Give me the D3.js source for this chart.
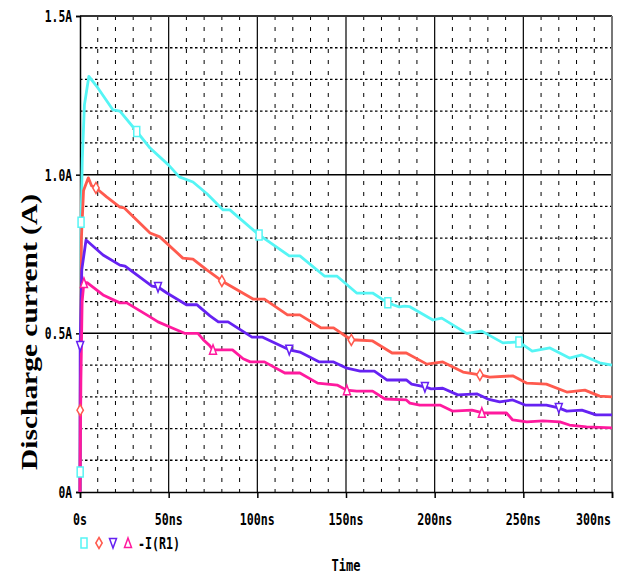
<!DOCTYPE html>
<html>
<head>
<meta charset="utf-8">
<script src="https://cdn.jsdelivr.net/npm/d3@7"></script>
<style>
  body { margin: 0; background: #fff; }
  .tick-label { font-family: "DejaVu Sans Mono", monospace; font-weight: bold; font-size: 16px; fill: #000; }
</style>
</head>
<body>
<div id="container"></div>
<script>
/* CONSTANTS AND GLOBALS */
const width = 620,
  height = 576,
  margin = { top: 16, bottom: 84, left: 80, right: 8 };

/* DATA: [time (ns), current (A)] */
const cyanPts = [[0,0],[0.1,0.063],[0.6,0.85],[1.3,1.05],[2.5,1.22],[5,1.31],[10,1.274],[18.6,1.204],[22.5,1.2],[32,1.136],
  [39.5,1.084],[50,1.03],[56,0.993],[63.7,0.977],[71.6,0.94],[80.7,0.889],[84.5,0.889],[101,0.81],[118,0.744],[124,0.744],
  [138,0.68],[145,0.68],[156,0.627],[165,0.627],[173.6,0.596],[180,0.583],[183,0.586],[186,0.584],[199,0.542],[204,0.548],
  [218,0.5],[226.6,0.507],[238.5,0.47],[247.5,0.473],[255,0.444],[265,0.454],[276,0.422],[283,0.432],[293,0.407],[300,0.4]];

const redPts = [[0,0],[0.1,0.258],[0.8,0.8],[2,0.95],[4.7,0.99],[6.5,0.965],[9,0.958],[15,0.93],[22.5,0.898],[25,0.895],
  [39.5,0.816],[45,0.804],[58,0.737],[63.7,0.734],[71.5,0.7],[80,0.665],[97.6,0.608],[104,0.608],[117,0.558],[124,0.558],
  [136,0.517],[143,0.517],[153,0.479],[156,0.479],[165,0.476],[176,0.438],[184,0.438],[195.6,0.403],[204.6,0.41],[216,0.378],
  [225.5,0.369],[231,0.362],[244,0.366],[252,0.343],[263,0.34],[274.5,0.315],[284.7,0.321],[293,0.302],[300,0.3]];

const bluePts = [[0,0],[0.1,0.46],[1,0.7],[3.4,0.794],[13,0.747],[22.5,0.715],[25.4,0.712],[40.6,0.649],[44,0.646],[49,0.627],
  [60,0.59],[66,0.59],[67,0.585],[73.3,0.555],[78,0.536],[83.5,0.536],[97,0.488],[103,0.488],[118,0.448],[124,0.441],
  [135,0.41],[143,0.41],[150.5,0.39],[158,0.381],[166,0.381],[173,0.353],[184,0.353],[187,0.34],[194.5,0.331],[198,0.325],
  [204.6,0.327],[213,0.306],[224,0.309],[230,0.293],[236.7,0.284],[244,0.29],[251,0.274],[263,0.274],[270,0.265],[274.5,0.255],
  [283,0.258],[291,0.243],[300,0.243]];

const magentaPts = [[0,0],[0.5,0.35],[1.2,0.6],[2.2,0.659],[4,0.66],[13,0.621],[22.5,0.596],[26.4,0.596],[39.5,0.552],[44,0.536],
  [50.7,0.52],[59,0.5],[66.5,0.5],[69.5,0.48],[73,0.462],[75,0.448],[86,0.448],[92,0.42],[96,0.41],[104,0.41],
  [115.5,0.375],[124,0.375],[134,0.343],[145,0.337],[150.5,0.321],[156,0.318],[165,0.318],[172,0.293],[184,0.29],[186,0.28],
  [191.6,0.274],[203,0.274],[210,0.255],[221,0.258],[226.6,0.25],[229,0.249],[240.5,0.249],[244,0.227],[252,0.221],[261,0.224],
  [270.6,0.221],[276,0.211],[285.6,0.205],[300,0.202]];

// marker times along each trace
const cyanMarks = [0.1, 0.6, 32, 101, 173.6, 247.5];
const redMarks = [0.1, 9, 80, 153, 225.5];
const blueMarks = [0.1, 44, 118, 194.5, 270];
const magentaMarks = [2.2, 75, 150.5, 226.6];

const xTicks = [0, 50, 100, 150, 200, 250, 300];
const xTickLabels = ["0s", "50ns", "100ns", "150ns", "200ns", "250ns", "300ns"];
const yTicks = [0, 0.5, 1.0, 1.5];
const yTickLabels = ["0A", "0.5A", "1.0A", "1.5A"];

const series = [
  { pts: cyanPts, marks: cyanMarks, color: "#55f5f5", shape: "square" },
  { pts: redPts, marks: redMarks, color: "#ff5a4e", shape: "diamond" },
  { pts: bluePts, marks: blueMarks, color: "#6622f2", shape: "down" },
  { pts: magentaPts, marks: magentaMarks, color: "#ff1a9e", shape: "up" }
];

/* SCALES */
const xScale = d3.scaleLinear().domain([0, 300]).range([margin.left, width - margin.right]);
const yScale = d3.scaleLinear().domain([0, 1.5]).range([height - margin.bottom, margin.top]);

const svg = d3.select("#container").append("svg")
  .attr("width", width)
  .attr("height", height);

/* GRID */
const minorX = d3.range(10, 300, 10).filter(d => d % 50 !== 0);
const minorY = d3.range(1, 15).map(d => d / 10).filter(d => Math.round(d * 10) % 5 !== 0);

svg.append("g").selectAll("line").data(minorX).join("line")
  .attr("x1", d => xScale(d)).attr("x2", d => xScale(d))
  .attr("y1", yScale(1.5)).attr("y2", yScale(0))
  .attr("stroke", "#000").attr("stroke-width", 1)
  .attr("stroke-dasharray", "4,7");

svg.append("g").selectAll("line").data(minorY).join("line")
  .attr("x1", xScale(0)).attr("x2", xScale(300))
  .attr("y1", d => yScale(d)).attr("y2", d => yScale(d))
  .attr("stroke", "#000").attr("stroke-width", 1.3)
  .attr("stroke-dasharray", "2.5,2.5");

svg.append("g").selectAll("line").data([50, 100, 150, 200, 250]).join("line")
  .attr("x1", d => xScale(d)).attr("x2", d => xScale(d))
  .attr("y1", yScale(1.5)).attr("y2", yScale(0))
  .attr("stroke", "#000").attr("stroke-width", 1.2);

svg.append("g").selectAll("line").data([0.5, 1.0]).join("line")
  .attr("x1", xScale(0)).attr("x2", xScale(300))
  .attr("y1", d => yScale(d)).attr("y2", d => yScale(d))
  .attr("stroke", "#000").attr("stroke-width", 1.5);

// frame
svg.append("line").attr("x1", xScale(0)).attr("x2", xScale(300))
  .attr("y1", yScale(1.5)).attr("y2", yScale(1.5))
  .attr("stroke", "#333").attr("stroke-width", 2);
svg.append("line").attr("x1", xScale(300)).attr("x2", xScale(300))
  .attr("y1", yScale(1.5)).attr("y2", yScale(0))
  .attr("stroke", "#777").attr("stroke-width", 2);

/* AXES */
const xAxis = d3.axisBottom(xScale).tickValues(xTicks).tickSize(6).tickFormat("");
svg.append("g")
  .attr("transform", `translate(0,${yScale(0)})`)
  .call(xAxis)
  .call(g => g.select(".domain").attr("stroke-width", 1.5))
  .call(g => g.selectAll(".tick line").attr("stroke-width", 1.5));

const yAxis = d3.axisLeft(yScale).tickValues(yTicks).tickSize(4).tickFormat("");
svg.append("g")
  .attr("transform", `translate(${xScale(0)},0)`)
  .call(yAxis)
  .call(g => g.select(".domain").attr("stroke-width", 1.5))
  .call(g => g.selectAll(".tick line").attr("stroke-width", 1.5));

// tick labels (condensed bitmap-ish look)
svg.append("g").selectAll("text").data(xTicks).join("text")
  .attr("class", "tick-label")
  .attr("x", (d, i) => i === xTicks.length - 1 ? xScale(d) - 1 : xScale(d))
  .attr("y", 525)
  .attr("text-anchor", (d, i) => i === xTicks.length - 1 ? "end" : "middle")
  .attr("textLength", (d, i) => xTickLabels[i].length * 7)
  .attr("lengthAdjust", "spacingAndGlyphs")
  .text((d, i) => xTickLabels[i]);

svg.append("g").selectAll("text").data(yTicks).join("text")
  .attr("class", "tick-label")
  .attr("x", 72)
  .attr("y", d => yScale(d) + 6)
  .attr("text-anchor", "end")
  .attr("textLength", (d, i) => yTickLabels[i].length * 6.8)
  .attr("lengthAdjust", "spacingAndGlyphs")
  .text((d, i) => yTickLabels[i]);

svg.append("text")
  .attr("class", "tick-label")
  .attr("x", 346)
  .attr("y", 571)
  .attr("text-anchor", "middle")
  .attr("textLength", 29)
  .attr("lengthAdjust", "spacingAndGlyphs")
  .text("Time");

svg.append("text")
  .attr("x", -332)
  .attr("y", 37)
  .attr("transform", "rotate(-90)")
  .attr("text-anchor", "middle")
  .attr("font-family", "Liberation Serif, Times New Roman, serif")
  .attr("font-weight", "bold")
  .attr("font-size", 24)
  .attr("textLength", 276)
  .attr("lengthAdjust", "spacingAndGlyphs")
  .text("Discharge current (A)");

/* LINES */
const lineGen = d3.line()
  .x(d => xScale(d[0]))
  .y(d => yScale(d[1]));

svg.append("g").selectAll("path").data(series).join("path")
  .attr("d", d => lineGen(d.pts))
  .attr("fill", "none")
  .attr("stroke", d => d.color)
  .attr("stroke-width", 2.8)
  .attr("stroke-linejoin", "round");

/* MARKERS */
const shapes = {
  square: "M-3,-5H3V5H-3Z",
  diamond: "M0,-5.5L3.2,0L0,5.5L-3.2,0Z",
  down: "M-3.5,-4.5H3.5L0,5Z",
  up: "M0,-5L3.5,4.5H-3.5Z"
};

function valueAt(pts, t) {
  const i = d3.bisector(d => d[0]).left(pts, t);
  if (i <= 0) return pts[0][1];
  if (i >= pts.length) return pts[pts.length - 1][1];
  const a = pts[i - 1], b = pts[i];
  return a[1] + (b[1] - a[1]) * (t - a[0]) / (b[0] - a[0]);
}

series.forEach(s => {
  svg.append("g").selectAll("path").data(s.marks).join("path")
    .attr("d", shapes[s.shape])
    .attr("transform", t => `translate(${xScale(t)},${yScale(valueAt(s.pts, t))})`)
    .attr("fill", "#fff")
    .attr("stroke", s.color)
    .attr("stroke-width", 1.5);
});

/* LEGEND */
const legendX = [84, 99, 113, 128];
const legend = svg.append("g");
series.forEach((s, i) => {
  legend.append("path")
    .attr("d", shapes[s.shape])
    .attr("transform", `translate(${legendX[i]},543)`)
    .attr("fill", "#fff")
    .attr("stroke", s.color)
    .attr("stroke-width", 1.5);
});
legend.append("text")
  .attr("class", "tick-label")
  .attr("x", 138)
  .attr("y", 549)
  .attr("textLength", 42)
  .attr("lengthAdjust", "spacingAndGlyphs")
  .text("-I(R1)");
</script>
</body>
</html>
